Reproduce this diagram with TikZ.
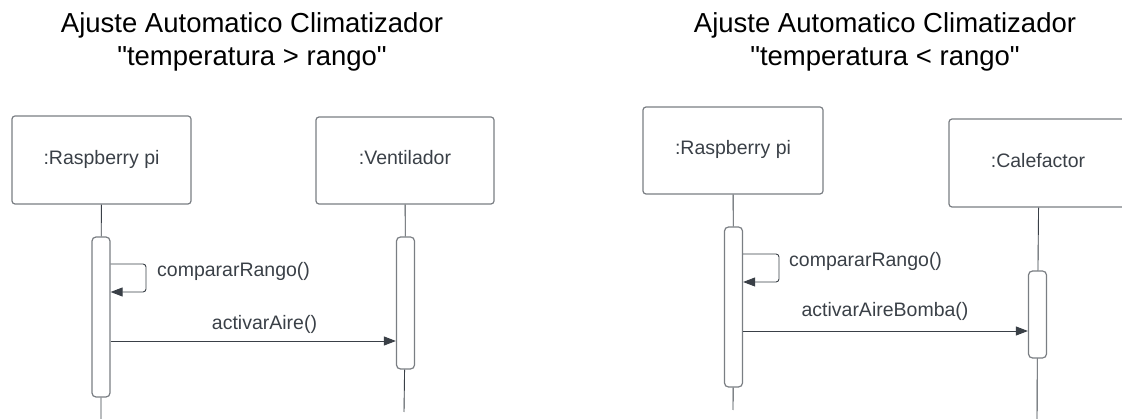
\documentclass[tikz,border=0pt]{standalone}
\usepackage{fontspec}
\setmainfont{Liberation Sans}[Ligatures=TeXOff]
\usetikzlibrary{arrows.meta}
\definecolor{linegray}{HTML}{7A7E83}
\definecolor{inkgray}{HTML}{3A4047}
\begin{document}
\begin{tikzpicture}
[x=1pt,y=-1pt,
lifebox/.style={draw=linegray,line width=1.2pt,rounded corners=3pt,minimum width=179pt,minimum height=88pt},
actbar/.style={draw=linegray,line width=1.2pt,rounded corners=4pt,minimum width=18pt,inner sep=0pt},
lifeline/.style={draw=inkgray,line width=0.9pt},
msg/.style={draw=inkgray,line width=0.9pt,-{Triangle[length=12pt,width=9pt]}},
msglabel/.style={font=\fontsize{19.5}{23}\selectfont,text=inkgray,anchor=base,inner sep=0pt},
title/.style={font=\fontsize{27.5}{33}\selectfont,align=center}]
\useasboundingbox (0,0) rectangle (1122,419);
\clip (0,0) rectangle (1122,419);
% titles
\node[title] (tleft) at (252,41.5) {Ajuste Automatico Climatizador\\"temperatura > rango"};
\node[title] (tright) at (885,41.5) {Ajuste Automatico Climatizador\\"temperatura < rango"};
% left diagram
\node[lifebox] (rpiA) at (101.5,160) {};
\node[msglabel] (nameA) at (101.5,165) {:Raspberry pi};
\node[lifebox,minimum width=178pt,minimum height=87pt] (vent) at (405,160.5) {};
\node[msglabel] (nameV) at (405,165) {:Ventilador};
\node[actbar,minimum height=160pt] (barA) at (101,317) {};
\node[actbar,minimum height=132pt] (barV) at (405.5,303) {};
\coordinate (endA) at (101,419);
\coordinate (endV) at (404,412);
\path[lifeline] (rpiA) -- (barA) (barA) -- (endA);
\path[lifeline] (vent) -- (barV) (barV) -- (endV);
\draw[msg,rounded corners=3pt] (barA.east |- 0,264) -- (146,264) -- (146,292) -- (barA.east |- 0,292);
\node[msglabel,anchor=base west] (cmpA) at (157,277) {compararRango()};
\draw[msg] (barA.east |- 0,341) -- (barV.west |- 0,341);
\node[msglabel] (actA) at (264.5,330) {activarAire()};
% right diagram
\node[lifebox,minimum width=180pt,minimum height=87pt] (rpiB) at (733,150.5) {};
\node[msglabel] (nameB) at (733,155) {:Raspberry pi};
\node[lifebox,minimum width=180pt] (calef) at (1039,163) {};
\node[msglabel] (nameC) at (1038,168) {:Calefactor};
\node[actbar,minimum height=160pt] (barB) at (733.5,307) {};
\node[actbar,minimum height=87pt] (barC) at (1037.5,314.5) {};
\coordinate (endB) at (733,410);
\coordinate (endC) at (1037,419);
\path[lifeline] (rpiB) -- (barB) (barB) -- (endB);
\path[lifeline] (calef) -- (barC) (barC) -- (endC);
\draw[msg,rounded corners=3pt] (barB.east |- 0,254) -- (779,254) -- (779,282) -- (barB.east |- 0,282);
\node[msglabel,anchor=base west] (cmpB) at (789,267) {compararRango()};
\draw[msg] (barB.east |- 0,331) -- (barC.west |- 0,331);
\node[msglabel] (actB) at (885,317) {activarAireBomba()};
\end{tikzpicture}
\end{document}
